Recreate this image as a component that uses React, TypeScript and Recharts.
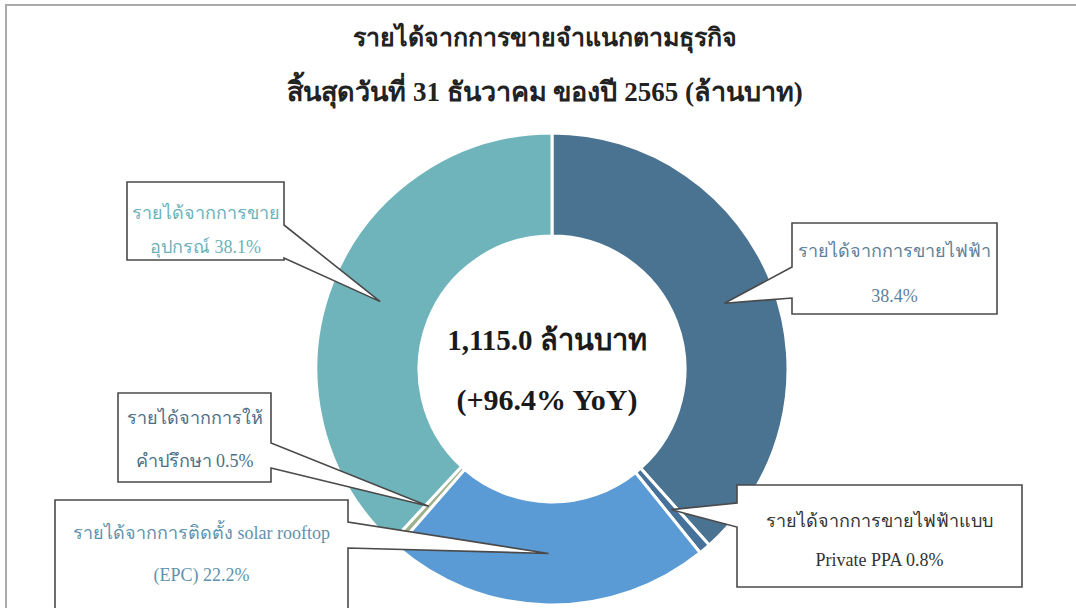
import { PieChart, Pie, Cell } from 'recharts'

const SEGMENTS = ['ขายไฟฟ้า', 'Private PPA', 'EPC', 'ให้คำปรึกษา', 'ขายอุปกรณ์']
const VALUES = [38.4, 0.8, 22.2, 0.5, 38.1]
const COLORS = ['#4a7291', '#46719a', '#5b9bd5', '#9fb08c', '#6fb4bb']
const LABEL_LINE1 = [
  'รายได้จากการขายไฟฟ้า',
  'รายได้จากการขายไฟฟ้าแบบ',
  'รายได้จากการติดตั้ง solar rooftop',
  'รายได้จากการให้',
  'รายได้จากการขาย',
]
const LABEL_PREFIX2 = ['', 'Private PPA ', '(EPC) ', 'คำปรึกษา ', 'อุปกรณ์ ']
const LABEL_COLORS = ['#5d8199', '#333333', '#5f92ad', '#4d6f86', '#6cb1b9']

const TITLE1 = 'รายได้จากการขายจำแนกตามธุรกิจ'
const TITLE2 = 'สิ้นสุดวันที่ 31 ธันวาคม ของปี 2565 (ล้านบาท)'
const TOTAL = '1,115.0 ล้านบาท'
const GROWTH = '(+96.4% YoY)'

// callout boxes, one per segment (layout only)
const BOXES = [
  { x: 792, y: 223, w: 205, h: 91, side: 'left', b1: 267, b2: 298, t1: 251, t2: 296 },
  { x: 737, y: 485, w: 285, h: 102, side: 'left', b1: 503, b2: 527, t1: 521, t2: 560 },
  { x: 55, y: 500, w: 293, h: 115, side: 'right', b1: 522, b2: 548, t1: 533, t2: 575 },
  { x: 118, y: 393, w: 153, h: 89, side: 'right', b1: 443, b2: 468, t1: 418, t2: 461 },
  { x: 127, y: 182, w: 157, h: 78, side: 'right', b1: 225, b2: 258, t1: 213, t2: 247 },
]

const data = SEGMENTS.map((name, i) => ({ name, value: VALUES[i] }))

const FONT = '"Liberation Serif", "DejaVu Serif", serif'

function Callout(props: any) {
  const { cx, cy, midAngle, innerRadius, outerRadius, index } = props
  const b = BOXES[index]
  const RAD = Math.PI / 180
  const r = (innerRadius + outerRadius) / 2
  const tx = cx + r * Math.cos(-midAngle * RAD)
  const ty = cy + r * Math.sin(-midAngle * RAD)
  const { x, y, w, h } = b
  let d = ''
  if (b.side === 'right') {
    d = `M${x},${y} H${x + w} V${b.b1} L${tx},${ty} L${x + w},${b.b2} V${y + h} H${x} Z`
  } else {
    d = `M${x},${y} H${x + w} V${y + h} H${x} V${b.b2} L${tx},${ty} L${x},${b.b1} Z`
  }
  const midX = x + w / 2
  return (
    <g>
      <path d={d} fill="#ffffff" stroke="#4a4a4a" strokeWidth={1.6} strokeLinejoin="miter" />
      <text x={midX} y={b.t1} textAnchor="middle" dominantBaseline="central"
        fontSize={18} fontFamily={FONT} fill={LABEL_COLORS[index]}>
        {LABEL_LINE1[index]}
      </text>
      <text x={midX} y={b.t2} textAnchor="middle" dominantBaseline="central"
        fontSize={18} fontFamily={FONT} fill={LABEL_COLORS[index]}>
        {LABEL_PREFIX2[index] + VALUES[index].toFixed(1) + '%'}
      </text>
    </g>
  )
}

export default function App() {
  return (
    <div style={{ position: 'absolute', left: 0, top: 0, width: 1076, height: 608, overflow: 'hidden', background: '#fff' }}>
      <div style={{ position: 'absolute', left: 5, top: 4, width: 1200, height: 800, borderLeft: '2px solid #a9a9a9', borderTop: '2px solid #a9a9a9' }} />
      <PieChart width={1076} height={608} style={{ position: 'absolute', left: 0, top: 0 }}>
        <Pie
          data={data}
          dataKey="value"
          nameKey="name"
          cx={547}
          cy={364}
          innerRadius={133}
          outerRadius={236}
          startAngle={90}
          endAngle={-270}
          stroke="#ffffff"
          strokeWidth={3}
          label={Callout}
          labelLine={false}
          isAnimationActive={false}
        >
          {data.map((_, i) => (
            <Cell key={i} fill={COLORS[i]} />
          ))}
        </Pie>
      </PieChart>
      <div style={{ position: 'absolute', left: 0, width: 1090, top: 18, textAlign: 'center', fontFamily: FONT, fontWeight: 'bold', fontSize: 25, color: '#222', lineHeight: '40px', pointerEvents: 'none' }}>
        {TITLE1}
      </div>
      <div style={{ position: 'absolute', left: 0, width: 1090, top: 72, textAlign: 'center', fontFamily: FONT, fontWeight: 'bold', fontSize: 27, color: '#222', lineHeight: '40px', pointerEvents: 'none' }}>
        {TITLE2}
      </div>
      <div style={{ position: 'absolute', left: 0, width: 1094, top: 318, textAlign: 'center', fontFamily: FONT, fontWeight: 'bold', fontSize: 29, color: '#1a1a1a', lineHeight: '44px', pointerEvents: 'none' }}>
        {TOTAL}
      </div>
      <div style={{ position: 'absolute', left: 0, width: 1094, top: 378, textAlign: 'center', fontFamily: FONT, fontWeight: 'bold', fontSize: 30, color: '#1a1a1a', lineHeight: '44px', pointerEvents: 'none' }}>
        {GROWTH}
      </div>
    </div>
  )
}
